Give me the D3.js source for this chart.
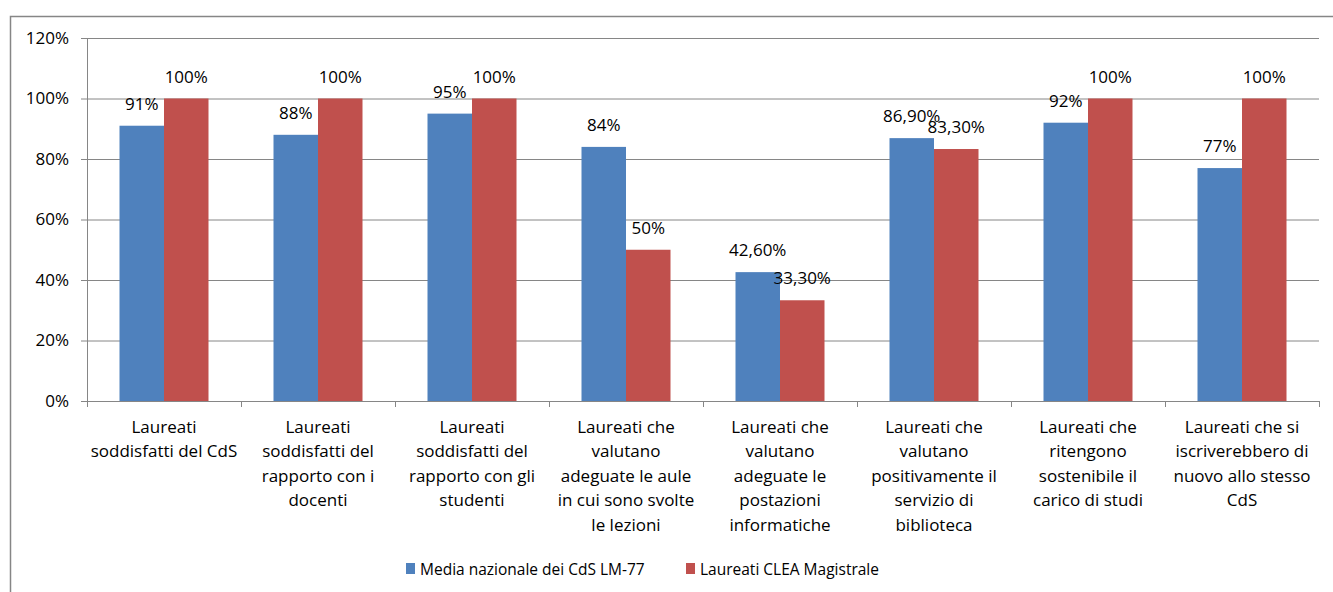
<!DOCTYPE html>
<html>
<head>
<meta charset="utf-8">
<script src="https://cdn.jsdelivr.net/npm/d3@7"></script>
<style>
  body { margin: 0; background: #fff; }
  svg text { font-family: "Open Sans", Lato, sans-serif; fill: #000; }
</style>
</head>
<body>
<svg id="chart" width="1333" height="592"></svg>
<script>
// categories, each split into the lines shown under the axis
const categories = [
    ['Laureati', 'soddisfatti del CdS'],
    ['Laureati', 'soddisfatti del', 'rapporto con i', 'docenti'],
    ['Laureati', 'soddisfatti del', 'rapporto con gli', 'studenti'],
    ['Laureati che', 'valutano', 'adeguate le aule', 'in cui sono svolte', 'le lezioni'],
    ['Laureati che', 'valutano', 'adeguate le', 'postazioni', 'informatiche'],
    ['Laureati che', 'valutano', 'positivamente il', 'servizio di', 'biblioteca'],
    ['Laureati che', 'ritengono', 'sostenibile il', 'carico di studi'],
    ['Laureati che si', 'iscriverebbero di', 'nuovo allo stesso', 'CdS']
];

const seriesNames = ['Media nazionale dei CdS LM-77', 'Laureati CLEA Magistrale'];
const media = [91, 88, 95, 84, 42.6, 86.9, 92, 77];
const clea = [100, 100, 100, 50, 33.3, 83.3, 100, 100];
const mediaLabels = ['91%', '88%', '95%', '84%', '42,60%', '86,90%', '92%', '77%'];
const cleaLabels = ['100%', '100%', '100%', '50%', '33,30%', '83,30%', '100%', '100%'];
const yTicks = [0, 20, 40, 60, 80, 100, 120];

const colors = ['#4f81bd', '#c0504d'];
const gridColor = '#868686';
const fontSize = 17;

const svg = d3.select('#chart');

// outer chart frame (runs off the right / bottom edge like the screenshot)
svg.append('rect')
    .attr('x', 10.5).attr('y', 16.5)
    .attr('width', 1340).attr('height', 600)
    .attr('fill', 'none')
    .attr('stroke', gridColor)
    .attr('stroke-width', 1.5);

const margin = { left: 87, right: 14, top: 38, bottom: 191 };
const width = 1333 - margin.left - margin.right;
const height = 592 - margin.top - margin.bottom;

const g = svg.append('g').attr('transform', `translate(${margin.left},${margin.top})`);

const x0 = d3.scaleBand().domain(d3.range(categories.length)).range([0, width]);
const bw = 44.5;
const y = d3.scaleLinear().domain([0, 120]).range([height, 0]);

// gridlines + y axis
const yAxis = d3.axisLeft(y)
    .tickValues(yTicks)
    .tickSize(-width)
    .tickFormat((d) => d + '%')
    .tickPadding(18);

const yg = g.append('g').call(yAxis);
yg.select('.domain').remove();
yg.selectAll('.tick line').attr('stroke', gridColor).attr('x1', -6);
yg.selectAll('.tick text').attr('font-size', fontSize).attr('fill', '#000');

g.append('line')
    .attr('x1', 0.5).attr('x2', 0.5)
    .attr('y1', 0).attr('y2', height)
    .attr('stroke', gridColor);

// bars
const series = [media, clea];
const labels = [mediaLabels, cleaLabels];

series.forEach((values, s) => {
    const grp = g.append('g');
    const bx = (i) => x0(i) + x0.bandwidth() / 2 + (s === 0 ? -bw : 0);

    grp.selectAll('rect')
        .data(values)
        .enter()
        .append('rect')
        .attr('x', (d, i) => bx(i))
        .attr('y', (d) => y(d))
        .attr('width', bw)
        .attr('height', (d) => height - y(d))
        .attr('fill', colors[s]);

    grp.selectAll('text')
        .data(values)
        .enter()
        .append('text')
        .attr('x', (d, i) => bx(i) + bw / 2)
        .attr('y', (d) => y(d) - 16)
        .attr('text-anchor', 'middle')
        .attr('font-size', fontSize)
        .text((d, i) => labels[s][i]);
});

// x axis with category ticks on boundaries
const xg = g.append('g').attr('transform', `translate(0,${height})`);
xg.append('line')
    .attr('x1', 0).attr('x2', width)
    .attr('y1', 0.5).attr('y2', 0.5)
    .attr('stroke', gridColor);

xg.selectAll('.ctick')
    .data(d3.range(categories.length + 1))
    .enter()
    .append('line')
    .attr('x1', (d) => Math.round(d * x0.bandwidth()) + 0.5)
    .attr('x2', (d) => Math.round(d * x0.bandwidth()) + 0.5)
    .attr('y1', 0).attr('y2', 6)
    .attr('stroke', gridColor);

const catText = xg.selectAll('.cat')
    .data(categories)
    .enter()
    .append('text')
    .attr('text-anchor', 'middle')
    .attr('font-size', fontSize)
    .attr('transform', (d, i) => `translate(${x0(i) + x0.bandwidth() / 2},32)`);

catText.selectAll('tspan')
    .data((d) => d)
    .enter()
    .append('tspan')
    .attr('x', 0)
    .attr('y', (d, i) => i * 24.4)
    .text((d) => d);

// legend
const legend = svg.append('g').attr('transform', 'translate(406,569)');
const legendX = [0, 280];
seriesNames.forEach((name, s) => {
    const lg = legend.append('g').attr('transform', `translate(${legendX[s]},0)`);
    lg.append('rect')
        .attr('x', 0).attr('y', -6)
        .attr('width', 9).attr('height', 11)
        .attr('fill', colors[s]);
    lg.append('text')
        .attr('x', 14).attr('y', 6)
        .attr('font-size', 15.5)
        .text(name);
});
</script>
</body>
</html>
